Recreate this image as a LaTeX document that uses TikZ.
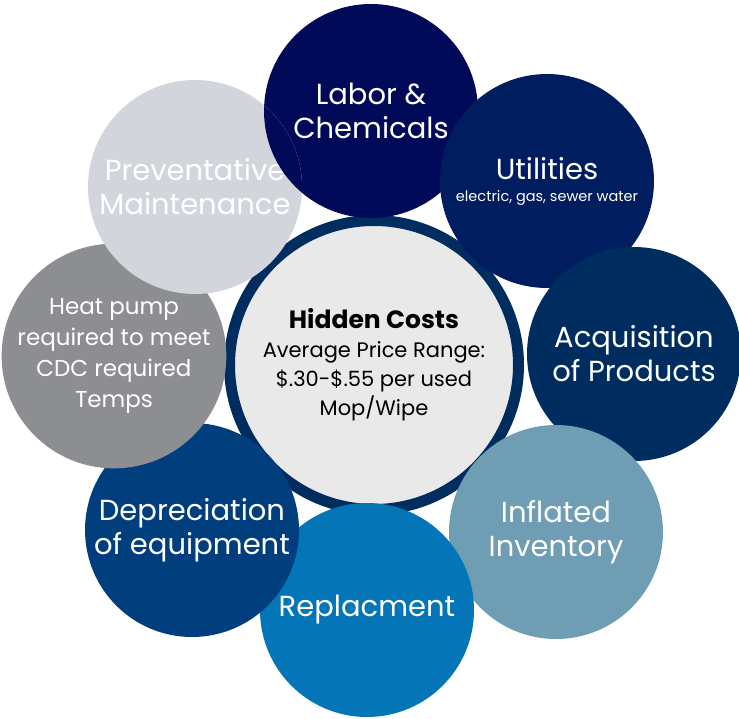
\documentclass[tikz,border=0pt]{standalone}
\usepackage{fontspec}
\setmainfont{Poppins}
\definecolor{laborblue}{RGB}{0,10,88}
\definecolor{utilblue}{RGB}{0,30,95}
\definecolor{acqblue}{RGB}{0,45,95}
\definecolor{inflblue}{RGB}{110,157,180}
\definecolor{replblue}{RGB}{4,117,182}
\definecolor{deprblue}{RGB}{0,62,126}
\definecolor{heatgray}{RGB}{140,142,146}
\definecolor{prevgray}{RGB}{210,213,220}
\definecolor{ringblue}{RGB}{0,45,95}
\definecolor{centergray}{RGB}{233,233,234}

\begin{document}
\begin{tikzpicture}[x=1pt,y=-1pt,
    bubble/.style={circle,minimum size=214pt,inner sep=0pt,text=white,align=center,
      font=\fontsize{29}{34}\selectfont}]
  \useasboundingbox (0,0) rectangle (739,719);
  \node[circle,minimum size=289pt,inner sep=0pt,fill=centergray,draw=ringblue,line width=11pt,
    align=center,font=\fontsize{21}{29}\selectfont] (hidden) at (374,365)
    {{\bfseries\fontsize{25}{29}\selectfont Hidden Costs}\\Average Price Range:\\\$.30-\$.55 per used\\Mop/Wipe};
  \node[bubble,fill=laborblue] (labor) at (371,111) {Labor \&\\Chemicals};
  \node[bubble,fill=utilblue] (utilities) at (547,181)
    {Utilities\\[-12pt]{\fontsize{14.5}{16}\selectfont electric, gas, sewer water}};
  \node[bubble,fill=acqblue] (acquisition) at (634,354) {Acquisition\\of Products};
  \node[bubble,fill=inflblue] (inflated) at (556,532) {Inflated\\Inventory};
  \node[bubble,fill=replblue] (replacment) at (367,610) {Replacment};
  \node[bubble,fill=deprblue] (depreciation) at (192,530) {Depreciation\\of equipment};
  \node[bubble,fill=heatgray,font=\fontsize{23}{31}\selectfont] (heatpump) at (114,356)
    {Heat pump\\required to meet\\CDC required\\Temps};
  \node[bubble,fill=prevgray] (preventative) at (195,187) {Preventative\\Maintenance};
  \begin{scope}
    \clip (preventative.center) circle[radius=107];
    \fill[laborblue] (labor.center) circle[radius=107];
  \end{scope}
\end{tikzpicture}
\end{document}
